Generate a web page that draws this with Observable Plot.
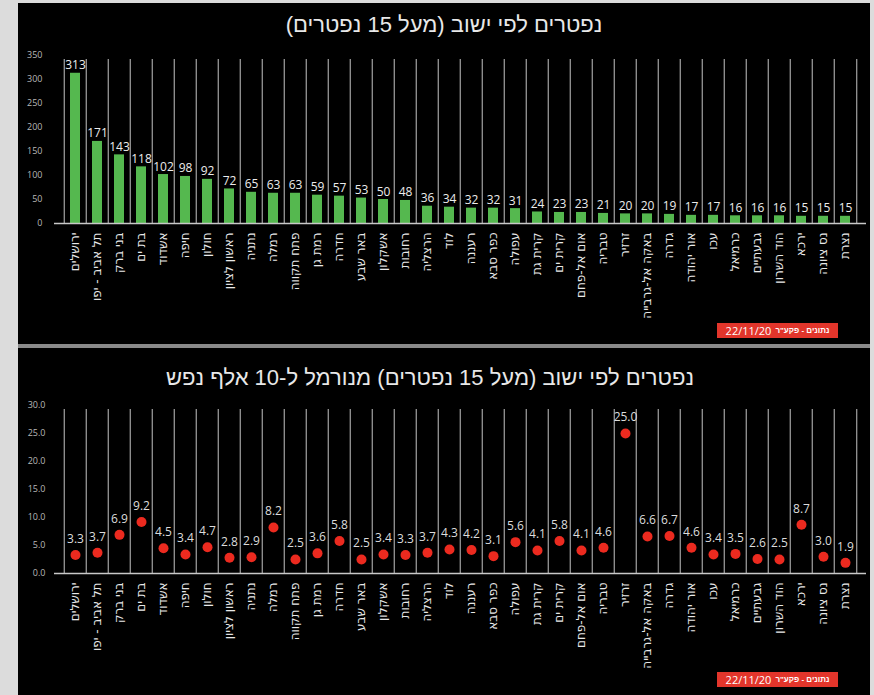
<!DOCTYPE html>
<html>
<head>
<meta charset="utf-8">
<script src="https://cdn.jsdelivr.net/npm/d3@7"></script>
<script src="https://cdn.jsdelivr.net/npm/@observablehq/plot@0.6"></script>
<style>
  html, body { margin: 0; padding: 0; }
  body { width: 874px; height: 695px; overflow: hidden; position: relative; background: #dcdcdc;
         font-family: "Liberation Sans", "DejaVu Sans", sans-serif; }
  .panel { position: absolute; left: 18px; width: 852px; background: #000; overflow: hidden; }
  #p1 { top: 3px; height: 341px; }
  #p2 { top: 348px; height: 347px; }
  #sep { position: absolute; left: 18px; width: 852px; top: 344px; height: 4px; background: #8a8a8a; }
  .title { position: absolute; width: 700px; text-align: center; color: #e8e8e8;
           font-size: 22px; line-height: 1; direction: rtl; white-space: nowrap; }
  .chart { position: absolute; left: 0; }
  .badge { position: absolute; left: 699px; width: 121px; height: 15px; background: #e2352b; color: #fff;
           direction: rtl; display: flex; align-items: center; justify-content: center; gap: 4px;
           white-space: nowrap; line-height: 1; }
  .badge .heb { font-size: 8px; font-weight: bold; }
  .badge .date { font-size: 11px; font-family: "Open Sans", "DejaVu Sans", sans-serif; }
</style>
</head>
<body>
<div id="p1" class="panel">
  <div class="title" style="top:11px; left:76px">נפטרים לפי ישוב (מעל 15 נפטרים)</div>
  <div id="c1" class="chart" style="top:42px"></div>
  <div class="badge" style="top:320px"><span class="heb">נתונים - פקע"ר</span><span class="date">22/11/20</span></div>
</div>
<div id="sep"></div>
<div id="p2" class="panel">
  <div class="title" style="top:19px; left:62px">נפטרים לפי ישוב (מעל 15 נפטרים) מנורמל ל-10 אלף נפש</div>
  <div id="c2" class="chart" style="top:47px"></div>
  <div class="badge" style="top:324px"><span class="heb">נתונים - פקע"ר</span><span class="date">22/11/20</span></div>
</div>
<script>
const cities = ["ירושלים", "תל אביב - יפו", "בני ברק", "בת ים", "אשדוד", "חיפה", "חולון", "ראשון לציון",
  "נתניה", "רמלה", "פתח תקווה", "רמת גן", "חדרה", "באר שבע", "אשקלון", "רחובות", "הרצליה", "לוד",
  "רעננה", "כפר סבא", "עפולה", "קרית גת", "קרית ים", "אום אל-פחם", "טבריה", "זרזיר",
  "באקה אל-גרבייה", "גדרה", "אור יהודה", "עכו", "כרמיאל", "גבעתיים", "הוד השרון", "ירכא",
  "נס ציונה", "נצרת"];
const deaths = [313, 171, 143, 118, 102, 98, 92, 72, 65, 63, 63, 59, 57, 53, 50, 48, 36, 34,
  32, 32, 31, 24, 23, 23, 21, 20, 20, 19, 17, 17, 16, 16, 16, 15, 15, 15];
const per10k = [3.3, 3.7, 6.9, 9.2, 4.5, 3.4, 4.7, 2.8, 2.9, 8.2, 2.5, 3.6, 5.8, 2.5, 3.4, 3.3, 3.7, 4.3,
  4.2, 3.1, 5.6, 4.1, 5.8, 4.1, 4.6, 25.0, 6.6, 6.7, 4.6, 3.4, 3.5, 2.6, 2.5, 8.7, 3.0, 1.9];
const deathTicks = [0, 50, 100, 150, 200, 250, 300, 350];
const rateTicks = [0, 5, 10, 15, 20, 25, 30];

const rows = cities.map((c, i) => ({city: c, deaths: deaths[i], rate: per10k[i]}));
const lastCity = [cities[cities.length - 1]];

const W = 852, H = 296, ML = 36, MR = 4, MT = 10, MB = 118;
const bw = (W - ML - MR) / cities.length;
const numFont = '"Open Sans", "DejaVu Sans", sans-serif';
const hebFont = '"DejaVu Sans", "Liberation Sans", sans-serif';

function frame(ymax) {
  const g = {stroke: "#c4c4c4", strokeWidth: 1, y1: 0, y2: ymax, insetBottom: -4};
  return [
    Plot.ruleX(cities, {x: (d) => d, dx: -bw / 2, ...g}),
    Plot.ruleX(lastCity, {x: (d) => d, dx: bw / 2, ...g})
  ];
}

const chartTop = Plot.plot({
  width: W, height: H, marginTop: MT, marginBottom: MB, marginLeft: ML, marginRight: MR,
  style: {background: "transparent", color: "#ddd", fontFamily: numFont},
  x: {type: "band", domain: cities, padding: 0},
  y: {domain: [0, 350]},
  marks: [
    ...frame(350),
    Plot.barY(rows, {x: "city", y: "deaths", fill: "#55b84f", insetLeft: 6, insetRight: 6}),
    Plot.ruleY([0], {stroke: "#c8c8c8", strokeWidth: 1.5}),
    Plot.text(rows, {x: "city", y: "deaths", text: (d) => String(d.deaths), dy: -4, lineAnchor: "bottom",
      fill: "#ececec", fontSize: 12, fontFamily: numFont}),
    Plot.axisY({ticks: deathTicks, tickSize: 0, tickPadding: 12, fontSize: 9, color: "#b8b8b8", label: null}),
    Plot.axisX({tickRotate: -90, tickSize: 0, tickPadding: 9, fontSize: 12, color: "#e8e8e8",
      label: null, fontFamily: hebFont})
  ]
});
document.getElementById("c1").appendChild(chartTop);

const chartBottom = Plot.plot({
  width: W, height: H, marginTop: MT, marginBottom: MB, marginLeft: ML, marginRight: MR,
  style: {background: "transparent", color: "#ddd", fontFamily: numFont},
  x: {type: "band", domain: cities, padding: 0},
  y: {domain: [0, 30]},
  marks: [
    ...frame(30),
    Plot.ruleY([0], {stroke: "#c8c8c8", strokeWidth: 1.5}),
    Plot.dot(rows, {x: "city", y: "rate", r: 5, fill: "#ec2a1f", stroke: "none"}),
    Plot.text(rows, {x: "city", y: "rate", text: (d) => d.rate.toFixed(1), dy: -16,
      fill: "#dcdcdc", fontSize: 12, fontFamily: numFont}),
    Plot.axisY({ticks: rateTicks, tickFormat: (d) => d.toFixed(1), tickSize: 0, tickPadding: 9,
      fontSize: 9, color: "#b8b8b8", label: null}),
    Plot.axisX({tickRotate: -90, tickSize: 0, tickPadding: 9, fontSize: 12, color: "#e8e8e8",
      label: null, fontFamily: hebFont})
  ]
});
document.getElementById("c2").appendChild(chartBottom);
</script>
</body>
</html>
